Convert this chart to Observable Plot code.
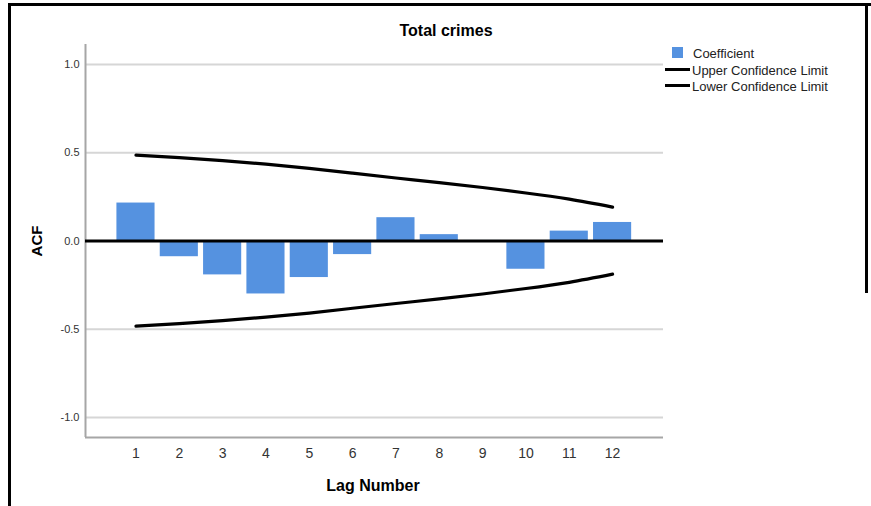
<!DOCTYPE html>
<html>
<head>
<meta charset="utf-8">
<script src="https://cdn.jsdelivr.net/npm/d3@7"></script>
<script src="https://cdn.jsdelivr.net/npm/@observablehq/plot@0.6"></script>
<style>
  html, body { margin: 0; padding: 0; background: #fff; }
  #wrap { position: relative; width: 871px; height: 506px; background: #fff; overflow: hidden;
          font-family: "Liberation Sans", Arial, sans-serif; color: #000; }
  #wrap svg { position: absolute; left: 0; top: 0; }
  .ov { position: absolute; white-space: nowrap; }
  .bar { position: absolute; background: #000; }
</style>
</head>
<body>
<div id="wrap">
  <div class="bar" style="left:8px;top:3px;width:3px;height:503px"></div>
  <div class="bar" style="left:8px;top:3px;width:863px;height:3px"></div>
  <div class="bar" style="left:865px;top:3px;width:3px;height:290px"></div>
  <div class="ov" style="left:346px;top:22px;width:200px;text-align:center;font-size:16px;font-weight:bold;line-height:18px">Total crimes</div>
  <div class="ov" style="left:273px;top:477px;width:200px;text-align:center;font-size:16px;font-weight:bold;line-height:18px">Lag Number</div>
  <div class="ov" style="left:7px;top:232px;width:60px;height:18px;text-align:center;font-size:15px;font-weight:bold;line-height:18px;transform:rotate(-90deg)">ACF</div>
  <div class="ov" style="left:672px;top:47px;width:11px;height:11px;background:#5592E0"></div>
  <div class="ov" style="left:665px;top:67.5px;width:25px;height:3px;background:#000"></div>
  <div class="ov" style="left:665px;top:83.5px;width:25px;height:3px;background:#000"></div>
  <div class="ov" style="left:693px;top:46px;font-size:13px;line-height:16px;color:#222">Coefficient</div>
  <div class="ov" style="left:692px;top:62.5px;font-size:13px;line-height:16px;color:#222">Upper Confidence Limit</div>
  <div class="ov" style="left:692px;top:78.5px;font-size:13px;line-height:16px;color:#222">Lower Confidence Limit</div>
</div>
<script>
const lags = [1, 2, 3, 4, 5, 6, 7, 8, 9, 10, 11, 12];
const acf = [0.215, -0.089, -0.192, -0.300, -0.207, -0.077, 0.132, 0.036, 0.003, -0.160, 0.056, 0.105];
const upper = [0.486, 0.472, 0.455, 0.435, 0.411, 0.384, 0.357, 0.331, 0.303, 0.272, 0.237, 0.192];
const lower = [-0.482, -0.468, -0.451, -0.431, -0.408, -0.381, -0.354, -0.328, -0.300, -0.269, -0.234, -0.188];
const yTicks = [-1, -0.5, 0, 0.5, 1];
const gridVals = [-1, -0.5, 0.5, 1];

const data = lags.map((lag, i) => ({lag, acf: acf[i], upper: upper[i], lower: lower[i]}));
const xDomain = [-0.165, 13.175];
const yDomain = [-1.113, 1.113];

const chart = Plot.plot({
  width: 871,
  height: 506,
  marginLeft: 85,
  marginRight: 208,
  marginTop: 44,
  marginBottom: 69,
  style: {fontFamily: "'Liberation Sans', Arial, sans-serif", background: "transparent", color: "#333"},
  x: {domain: xDomain, axis: null},
  y: {domain: yDomain, axis: null},
  marks: [
    Plot.ruleY(gridVals, {stroke: "#d6d6d6", strokeWidth: 2}),
    Plot.ruleX([xDomain[0]], {stroke: "#a6a6a6", strokeWidth: 2}),
    Plot.ruleY([yDomain[0]], {stroke: "#a6a6a6", strokeWidth: 2}),
    Plot.rectY(data, {x1: d => d.lag - 0.44, x2: d => d.lag + 0.44, y1: 0, y2: "acf", fill: "#5592E0"}),
    Plot.ruleY([0], {stroke: "#000", strokeWidth: 3}),
    Plot.lineY(data, {x: "lag", y: "upper", stroke: "#000", strokeWidth: 3.2, curve: "natural"}),
    Plot.lineY(data, {x: "lag", y: "lower", stroke: "#000", strokeWidth: 3.2, curve: "natural"}),
    Plot.axisY({ticks: yTicks, tickSize: 0, tickPadding: 6, fontSize: 11, fill: "#333", label: null, tickFormat: d => d.toFixed(1)}),
    Plot.axisX({ticks: lags, tickSize: 0, tickPadding: 11, fontSize: 14, fill: "#333", label: null, tickFormat: d => String(d)})
  ]
});
document.getElementById("wrap").prepend(chart);
</script>
</body>
</html>
